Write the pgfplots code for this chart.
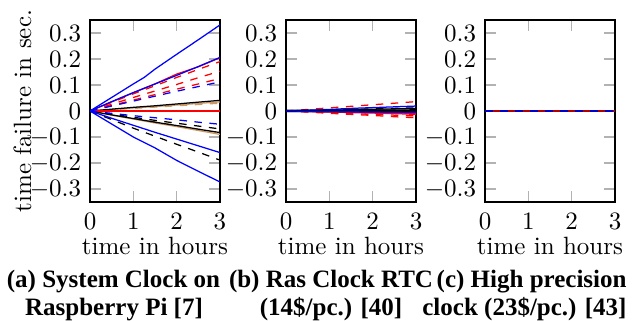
\documentclass[border=0pt]{standalone}
\usepackage{fontspec}
\newfontfamily\capfont{Liberation Serif}
\usepackage{pgfplots}
\pgfplotsset{compat=1.18}
\pgfplotsset{
  myax/.style={
    scale only axis, width=52pt, height=72.8pt,
    xmin=0, xmax=3, ymin=-0.35, ymax=0.35,
    xtick={0,1,2,3},
    ytick={-0.3,-0.2,-0.1,0,0.1,0.2,0.3},
    tick style={gray!60, line width=0.6pt},
    axis line style={line width=0.5pt},
    xlabel={time in hours},
    xlabel style={at={(axis description cs:0.5,-0.29)}, anchor=base},
    xticklabel style={yshift=-1pt},
    every axis plot/.append style={line width=0.5pt},
    clip=true,
  }
}
\begin{document}
\begin{tikzpicture}
\useasboundingbox (0,0) rectangle (253.2pt,-128pt);
% ---------------- (a) ----------------
\begin{axis}[myax, at={(36pt,-80.8pt)}, anchor=south west, ylabel={time failure in sec.},
  ylabel style={at={(axis description cs:-0.52,0.5)}, anchor=center}]
\addplot[brown!80] coordinates {(0,0) (0.5,0.006) (1,0.012) (1.5,0.017) (2,0.023) (2.5,0.029) (3,0.035)};
\addplot[brown!80, dashed] coordinates {(0,0) (0.5,0.005) (1,0.010) (1.5,0.015) (2,0.020) (2.5,0.025) (3,0.030)};
\addplot[brown!80] coordinates {(0,0) (0.5,-0.016) (1,-0.031) (1.5,-0.046) (2,-0.060) (2.5,-0.075) (3,-0.090)};
\addplot[brown!80, dashed] coordinates {(0,0) (0.5,-0.014) (1,-0.028) (1.5,-0.042) (2,-0.056) (2.5,-0.07) (3,-0.084)};
\addplot[black] coordinates {(0,0) (0.5,0.007) (1,0.014) (1.5,0.020) (2,0.027) (2.5,0.034) (3,0.041)};
\addplot[black] coordinates {(0,0) (0.5,-0.015) (1,-0.029) (1.5,-0.043) (2,-0.056) (2.5,-0.070) (3,-0.083)};
\addplot[black, dashed] coordinates {(0,0) (0.5,-0.012) (1,-0.024) (1.5,-0.036) (2,-0.047) (2.5,-0.058) (3,-0.069)};
\addplot[black, dashed] coordinates {(0,0) (0.5,-0.033) (1,-0.066) (1.5,-0.097) (2,-0.128) (2.5,-0.158) (3,-0.189)};
\addplot[red] coordinates {(0,0) (3,0)};
\addplot[red] coordinates {(0,0) (0.5,0.035) (1,0.07) (1.5,0.104) (2,0.142) (2.5,0.17) (3,0.205)};
\addplot[red, dashed] coordinates {(0,0) (0.5,0.033) (1,0.066) (1.5,0.097) (2,0.129) (2.5,0.16) (3,0.19)};
\addplot[red, dashed] coordinates {(0,0) (0.5,0.026) (1,0.052) (1.5,0.077) (2,0.102) (2.5,0.128) (3,0.153)};
\addplot[red, dashed] coordinates {(0,0) (0.5,0.021) (1,0.042) (1.5,0.063) (2,0.084) (2.5,0.104) (3,0.125)};
\addplot[blue, dashed] coordinates {(0,0) (0.5,0.019) (1,0.038) (1.5,0.057) (2,0.076) (2.5,0.094) (3,0.112)};
\addplot[blue, dashed] coordinates {(0,0) (0.5,-0.009) (1,-0.018) (1.5,-0.026) (2,-0.034) (2.5,-0.043) (3,-0.051)};
\addplot[blue] coordinates {(0,0) (0.5,0.036) (1,0.071) (1.5,0.104) (2,0.137) (2.5,0.171) (3,0.206)};
\addplot[blue] coordinates {(0,0) (0.5,0.052) (1,0.104) (1.25,0.129) (1.5,0.161) (2,0.218) (2.5,0.274) (3,0.331)};
\addplot[blue] coordinates {(0,0) (0.5,-0.028) (1,-0.055) (1.5,-0.082) (2,-0.108) (2.5,-0.134) (3,-0.16)};
\addplot[blue] coordinates {(0,0) (0.5,-0.05) (1,-0.1) (1.5,-0.142) (2,-0.19) (2.5,-0.232) (3,-0.273)};
\end{axis}
% ---------------- (b) ----------------
\begin{axis}[myax, at={(114.4pt,-80.8pt)}, anchor=south west]
\addplot[brown!80] coordinates {(0,0) (3,-0.004)};
\addplot[red, dashed] coordinates {(0,0) (0.5,0.006) (1,0.012) (1.5,0.018) (2,0.024) (2.5,0.03) (3,0.036)};
\addplot[red, dashed] coordinates {(0,0) (0.5,-0.003) (1,-0.006) (1.5,-0.01) (2,-0.013) (2.5,-0.016) (3,-0.019)};
\addplot[red, dashed] coordinates {(0,0) (0.5,-0.004) (1,-0.009) (1.5,-0.013) (2,-0.017) (2.5,-0.022) (3,-0.026)};
\addplot[red] coordinates {(0,0) (0.5,-0.0015) (1,-0.003) (1.5,-0.0045) (2,-0.006) (2.5,-0.0075) (3,-0.009)};
\addplot[red] coordinates {(0,0) (0.5,-0.002) (1,-0.004) (1.5,-0.006) (2,-0.008) (2.5,-0.01) (3,-0.013)};
\addplot[black, dashed] coordinates {(0,0) (0.5,0.002) (1,0.004) (1.5,0.006) (2,0.008) (2.5,0.010) (3,0.012)};
\addplot[black] coordinates {(0,0) (0.5,0.0015) (1,0.003) (1.5,0.005) (2,0.007) (2.5,0.008) (3,0.01)};
\addplot[blue] coordinates {(0,0) (0.5,0.003) (1,0.006) (1.5,0.01) (2,0.013) (2.5,0.016) (3,0.019)};
\addplot[blue, line width=0.8pt] coordinates {(0,0) (3,-0.002)};
\addplot[black, line width=1pt] coordinates {(0,0) (3,0.002)};
\addplot[blue] coordinates {(0,0) (0.5,-0.001) (1,-0.002) (1.5,-0.003) (2,-0.004) (2.5,-0.005) (3,-0.006)};
\end{axis}
% ---------------- (c) ----------------
\begin{axis}[myax, at={(194pt,-80.8pt)}, anchor=south west]
\addplot[red!70!black, line width=0.9pt] coordinates {(0,0) (3,0)};
\addplot[blue!80!black, dashed, line width=0.9pt] coordinates {(0,0) (3,0)};
\end{axis}
% ---------------- captions ----------------
\begin{scope}[every node/.style={inner sep=0pt, font=\capfont\bfseries\fontsize{10pt}{12pt}\selectfont}]
\node[anchor=base] at (45.4pt,-114.9pt) {(a) System Clock on};
\node[anchor=base] at (45.6pt,-126.3pt) {Raspberry Pi [7]};
\node[anchor=base] at (132.4pt,-114.9pt) {(b) Ras Clock RTC};
\node[anchor=base] at (132.4pt,-126.3pt) {(14\$/pc.) [40]};
\node[anchor=base east] at (250.8pt,-114.9pt) {(c) High precision};
\node[anchor=base east] at (250.8pt,-126.3pt) {clock (23\$/pc.) [43]};
\end{scope}
\end{tikzpicture}
\end{document}
